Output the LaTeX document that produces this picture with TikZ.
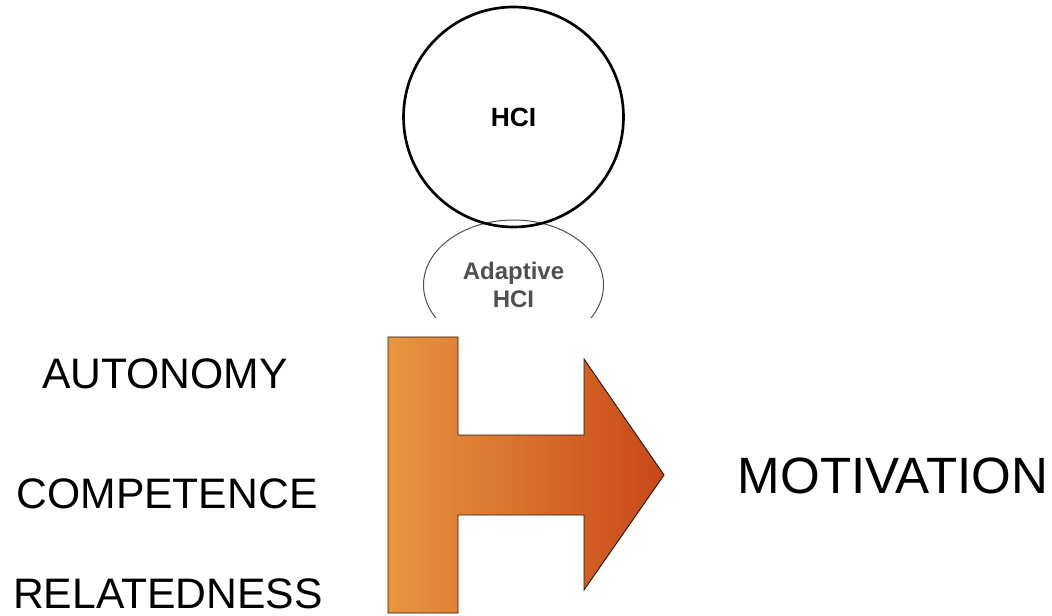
\documentclass[tikz,border=0pt]{standalone}
\usepackage{fontspec}
\setmainfont{Liberation Sans}
\usetikzlibrary{shapes.geometric}
\definecolor{arrowlight}{RGB}{232,150,64}
\definecolor{arrowdark}{RGB}{200,72,24}
\definecolor{adaptgray}{RGB}{80,80,80}
\begin{document}
\begin{tikzpicture}[x=0.75pt,y=-0.75pt,
    need/.style={font=\fontsize{32}{36}\selectfont, inner sep=0pt, anchor=base},
    goal/.style={font=\fontsize{38.3}{42}\selectfont, inner sep=0pt, anchor=base}]
                \useasboundingbox (0,0) rectangle (1052,616);

                \begin{scope}
                    \clip (0,0) rectangle (1052,318);
                    \node[ellipse, draw=adaptgray, line width=0.75pt, minimum width=135pt, minimum height=97.5pt] (adaptive) at (513.5,285) {};
                \end{scope}
                \node[circle, draw, line width=2pt, minimum size=165pt] (hci) at (513.5,117) {};

                \node[inner sep=0pt, anchor=base, font=\bfseries\fontsize{19.8}{22}\selectfont] (hcilabel) at (513.5,127) {HCI};
                \node[inner sep=0pt, anchor=base, text=adaptgray, font=\bfseries\fontsize{18}{21}\selectfont] (adaptive1) at (513.5,280) {Adaptive};
                \node[inner sep=0pt, anchor=base, text=adaptgray, font=\bfseries\fontsize{18}{21}\selectfont] (adaptive2) at (513.5,308) {HCI};

                \node[need] (autonomy) at (165,388) {AUTONOMY};
                \node[need] (competence) at (167,508) {COMPETENCE};
                \node[need] (relatedness) at (168,608) {RELATEDNESS};
                \node[goal] (motivation) at (893,493) {MOTIVATION};

                \draw[draw=black!80!brown, line width=0.7pt, left color=arrowlight, right color=arrowdark]
                    (388,337) -- (458,337) -- (458,435) -- (584,435) -- (584,359) -- (664,475)
                    -- (584,590) -- (584,515) -- (458,515) -- (458,613) -- (388,613) -- cycle;
            \end{tikzpicture}
\end{document}
